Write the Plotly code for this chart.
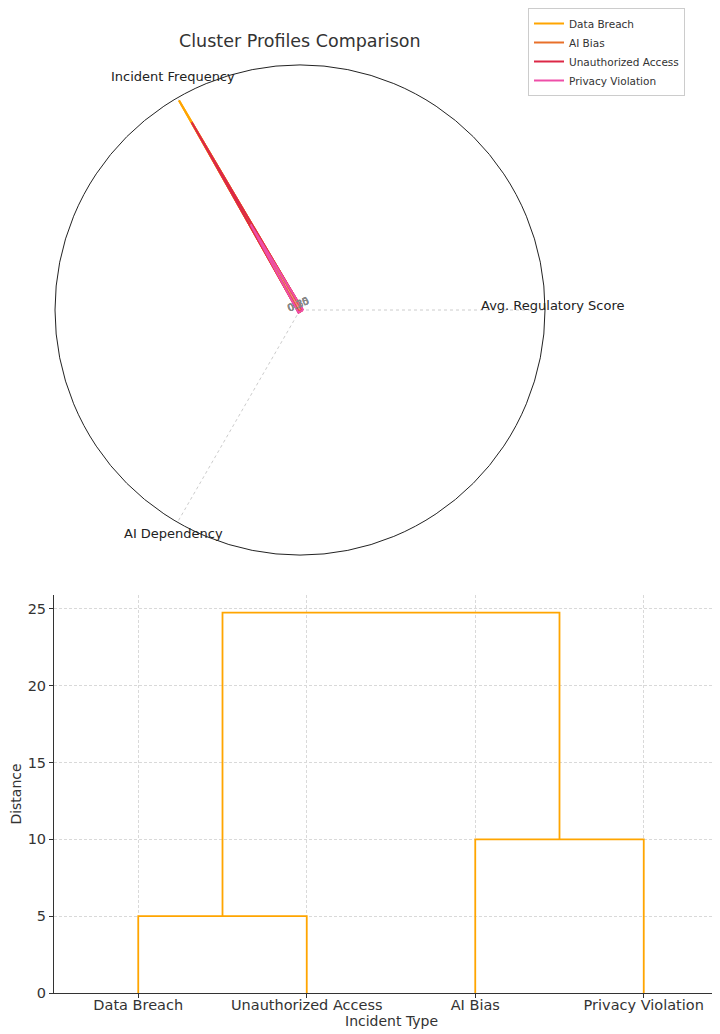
import plotly.graph_objects as go

# ---- Radar data ----
radar_categories = ["Avg. Regulatory Score", "Incident Frequency", "AI Dependency"]
series_names = ["Data Breach", "AI Bias", "Unauthorized Access", "Privacy Violation"]
avg_regulatory_score = [1.2, 1.1, 1.3, 1.5]
incident_frequency = [120.0, 85.0, 107.5, 49.0]
ai_dependency = [1.2, 1.1, 1.3, 1.5]
series_colors = ["#FFA500", "#E8702A", "#DC2846", "#EE4FA8"]
series_fills = ["rgba(255,165,0,0.25)", "rgba(232,112,42,0.25)",
                "rgba(220,40,70,0.25)", "rgba(238,79,168,0.25)"]
radial_ticks = [0.15, 0.20, 0.25, 0.30, 0.35]

# ---- Dendrogram data ----
leaf_labels = ["Data Breach", "Unauthorized Access", "AI Bias", "Privacy Violation"]
leaf_positions = [5, 15, 25, 35]
merge_heights = [5.0, 10.0, 24.75]
y_ticks = [0, 5, 10, 15, 20, 25]

# page body has an 8px margin; figure is sized to fill the 720x1034 window
OFF = 8
W, H = 720 - 2 * OFF, 1034 - OFF


def px_x(x):
    return (x - OFF) / W


def px_y(y):
    return 1 - (y - OFF) / H


fig = go.Figure()

for i, name in enumerate(series_names):
    r = [avg_regulatory_score[i], incident_frequency[i], ai_dependency[i], avg_regulatory_score[i]]
    th = radar_categories + [radar_categories[0]]
    fig.add_trace(go.Scatterpolar(
        r=r, theta=th, mode="lines", name=name, showlegend=False,
        line=dict(color=series_colors[i], width=2),
        fill="toself", fillcolor=series_fills[i],
        subplot="polar", hoverinfo="skip"))
for i, name in enumerate(series_names):
    r = [avg_regulatory_score[i], incident_frequency[i], ai_dependency[i], avg_regulatory_score[i]]
    th = radar_categories + [radar_categories[0]]
    fig.add_trace(go.Scatterpolar(
        r=r, theta=th, mode="lines", name=name,
        line=dict(color=series_colors[i], width=2),
        subplot="polar"))

# Dendrogram links built from leaves and merge heights
dx, dy = [], []
dx += [leaf_positions[0], leaf_positions[0], leaf_positions[1], leaf_positions[1], None]
dy += [0, merge_heights[0], merge_heights[0], 0, None]
dx += [leaf_positions[2], leaf_positions[2], leaf_positions[3], leaf_positions[3], None]
dy += [0, merge_heights[1], merge_heights[1], 0, None]
m1 = (leaf_positions[0] + leaf_positions[1]) / 2
m2 = (leaf_positions[2] + leaf_positions[3]) / 2
dx += [m1, m1, m2, m2]
dy += [merge_heights[0], merge_heights[2], merge_heights[2], merge_heights[1]]
fig.add_trace(go.Scatter(x=dx, y=dy, mode="lines", showlegend=False,
                         line=dict(color="#FFA500", width=1.8),
                         xaxis="x", yaxis="y", hoverinfo="skip"))

cx, cy, R = 300, 310, 245
GRID = "#d9d9d9"
fig.update_layout(
    width=W, height=H,
    margin=dict(l=0, r=0, t=0, b=0, autoexpand=False),
    paper_bgcolor="white", plot_bgcolor="white",
    font=dict(family="DejaVu Sans", color="#333333", size=12),
    showlegend=True,
    legend=dict(x=px_x(528), y=px_y(8), xanchor="left", yanchor="top",
                bordercolor="#cccccc", borderwidth=1, bgcolor="white",
                font=dict(size=10.5, color="#333333"), tracegroupgap=0),
    polar=dict(
        domain=dict(x=[px_x(cx - R), px_x(cx + R)],
                    y=[px_y(cy + R), px_y(cy - R)]),
        bgcolor="white",
        angularaxis=dict(direction="counterclockwise", rotation=0,
                         showline=True, linecolor="#222222", linewidth=1,
                         showgrid=True, gridcolor="#cccccc", griddash="dot",
                         gridwidth=1, showticklabels=False, ticks=""),
        radialaxis=dict(range=[0, 121.5], showline=False, showgrid=False,
                        tickvals=radial_ticks,
                        ticktext=[f"{v:.2f}" for v in radial_ticks],
                        tickfont=dict(size=10, color="#888888"),
                        angle=22.5, side="counterclockwise", tickangle=0, ticks=""),
    ),
    xaxis=dict(domain=[px_x(54), 1.0], range=[0, (720 - OFF - 54) / 16.85],
               automargin=False,
               tickvals=leaf_positions, ticktext=leaf_labels,
               showgrid=True, gridcolor=GRID, griddash="3px,2px", gridwidth=1,
               showline=True, linecolor="#333333", linewidth=1,
               ticks="outside", ticklen=4, tickcolor="#333333",
               ticklabelstandoff=-5,
               tickfont=dict(size=14.5, color="#333333"), zeroline=False),
    yaxis=dict(domain=[px_y(993), px_y(595)], range=[0, 25.9],
               automargin=False,
               tickvals=y_ticks,
               showgrid=True, gridcolor=GRID, griddash="3px,2px", gridwidth=1,
               showline=True, linecolor="#333333", linewidth=1,
               ticks="outside", ticklen=4, tickcolor="#333333",
               tickfont=dict(size=14.5, color="#333333"), zeroline=False,
               title=dict(text="Distance", font=dict(size=14, color="#333333"))),
    annotations=[
        dict(text="Cluster Profiles Comparison", x=px_x(300), y=px_y(41),
             xref="paper", yref="paper", showarrow=False,
             font=dict(size=17.5, color="#333333"), xanchor="center", yanchor="middle"),
        dict(text=radar_categories[1], x=px_x(173), y=px_y(76),
             xref="paper", yref="paper", showarrow=False,
             font=dict(size=13, color="#222222"), xanchor="center", yanchor="middle"),
        dict(text=radar_categories[0], x=px_x(553), y=px_y(305),
             xref="paper", yref="paper", showarrow=False,
             font=dict(size=13, color="#222222"), xanchor="center", yanchor="middle"),
        dict(text=radar_categories[2], x=px_x(173), y=px_y(533),
             xref="paper", yref="paper", showarrow=False,
             font=dict(size=13, color="#222222"), xanchor="center", yanchor="middle"),
        dict(text="Incident Type", x=px_x(391), y=px_y(1021),
             xref="paper", yref="paper", showarrow=False,
             font=dict(size=14, color="#333333"), xanchor="center", yanchor="middle"),
    ],
)

fig.write_html("out.html")
